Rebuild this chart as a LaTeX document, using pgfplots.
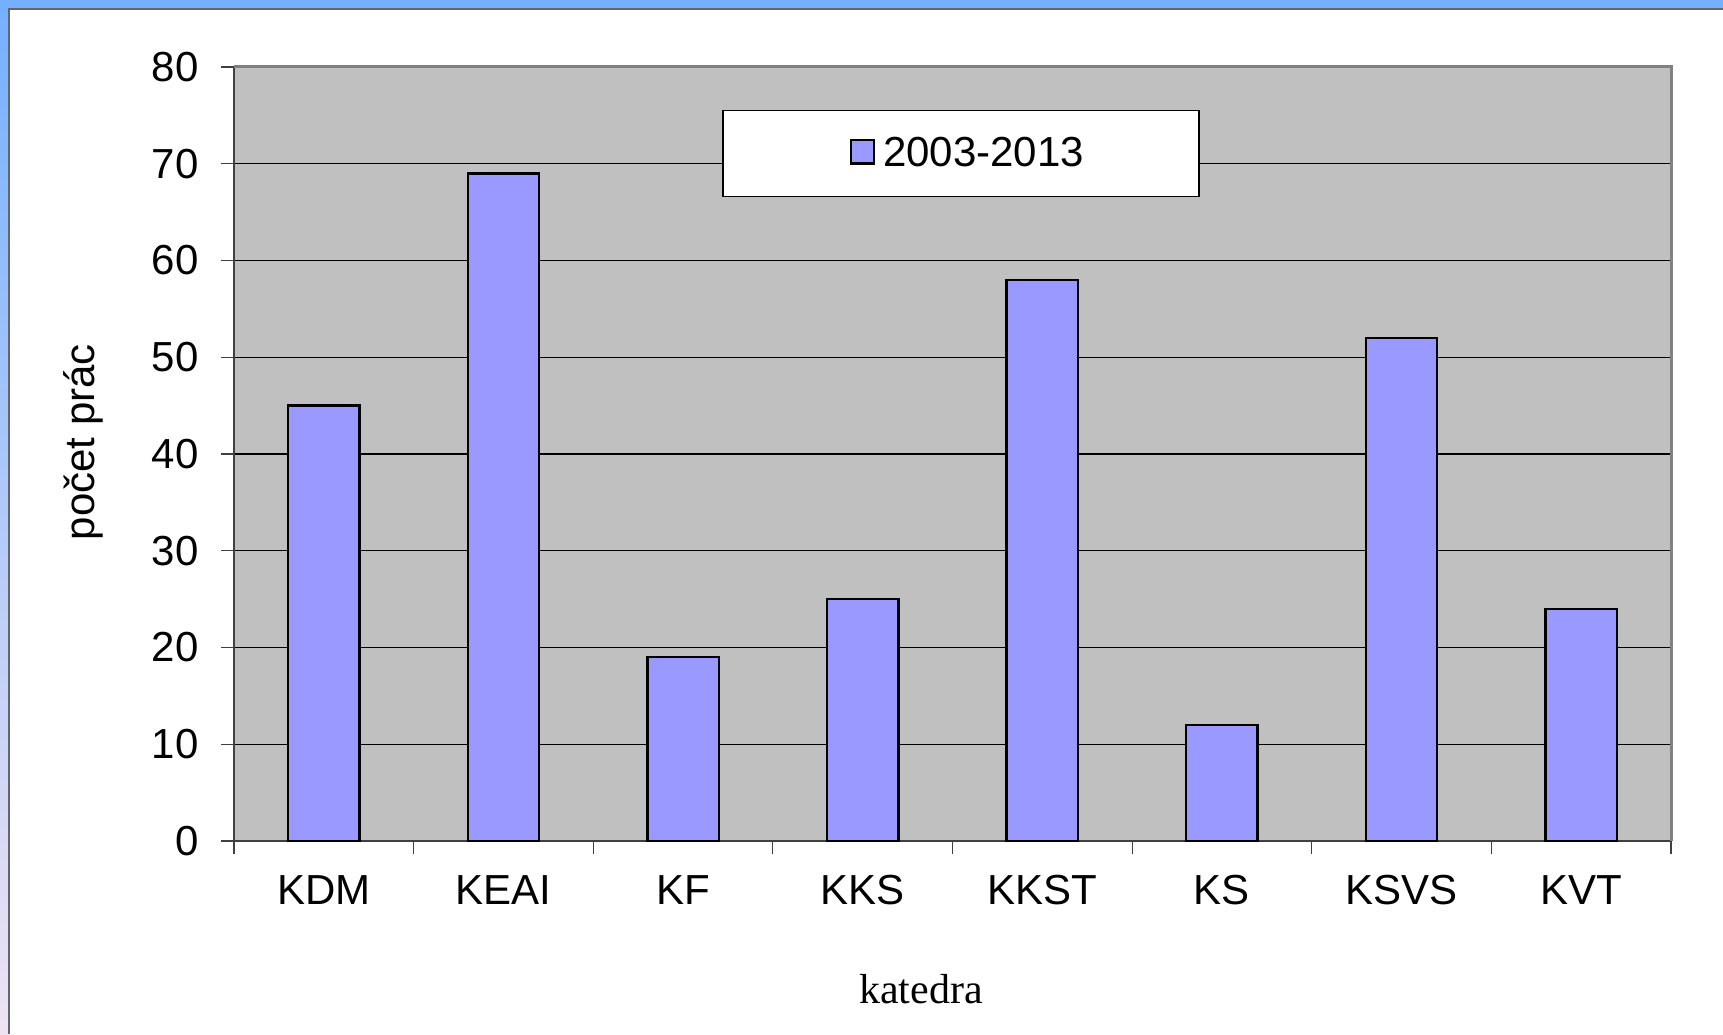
\documentclass[border=0pt]{standalone}
\usepackage{pgfplots}
\pgfplotsset{compat=1.18}
\usepackage{fontspec}
\setmainfont{Liberation Sans}
\newfontfamily\seriffont{Liberation Serif}
\definecolor{barblue}{HTML}{9999FF}
\definecolor{plotgray}{HTML}{C0C0C0}
\definecolor{framegray}{HTML}{808080}
\definecolor{topblue}{HTML}{74B0FF}
\definecolor{botpink}{HTML}{EFE3F3}
\begin{document}
\begin{tikzpicture}
\useasboundingbox (0pt,0pt) rectangle (861.5pt,517pt);
\fill[topblue] (0pt,512.5pt) rectangle (861.5pt,517pt);
\shade[top color=topblue, bottom color=botpink] (0pt,0pt) rectangle (4.5pt,517pt);
\fill[white] (4.5pt,0pt) rectangle (861.5pt,512.5pt);
\draw[color=black!60, line width=1pt] (4.5pt,0pt) -- (4.5pt,512.5pt) -- (861.5pt,512.5pt);
\begin{axis}[
  at={(117pt,96.5pt)}, anchor=south west,
  scale only axis, width=718.5pt, height=387pt,
  xmin=-0.5, xmax=7.5, ymin=0, ymax=80,
  axis background/.style={fill=plotgray},
  axis x line*=bottom, axis y line*=left,
  axis line style={draw=black!75, line width=0.8pt},
  ytick={0,10,...,80},
  ymajorgrids, major grid style={black, line width=0.6pt},
  xtick={0,...,7},
  xticklabels={KDM,KEAI,KF,KKS,KKST,KS,KSVS,KVT},
  minor xtick={-0.5,0.5,...,7.5},
  tick align=outside,
  major tick length=6.5pt, minor tick length=6.5pt,
  major x tick style={draw=none},
  minor x tick style={draw=black!75, line width=0.6pt},
  y tick style={draw=black!75, line width=0.6pt},
  /pgf/number format/assume math mode=true,
  tick label style={font=\fontsize{21}{25}\selectfont},
  yticklabel style={anchor=east, inner sep=0pt, xshift=-11pt},
  xticklabel style={anchor=north, inner sep=0pt, yshift=-10.5pt},
  ylabel={počet prác},
  ylabel style={font=\fontsize{21}{25}\selectfont, at={(axis description cs:-0.105,0.5155)}, anchor=center, rotate=0},
  xlabel={\seriffont katedra},
  xlabel style={font=\fontsize{21}{25}\selectfont, at={(axis description cs:0.478,-0.191)}, anchor=center},
  legend style={at={(axis description cs:0.3396,0.945)}, anchor=north west, draw=black, line width=0.8pt, fill=white,
    inner xsep=57.5pt, inner ysep=13.5pt, font=\fontsize{21}{25}\selectfont,
    nodes={inner sep=0pt}},
  after end axis/.code={\draw[framegray, line width=1.5pt] (rel axis cs:0,1) -- (rel axis cs:1,1) -- (rel axis cs:1,0);},
]
\addplot[ybar, bar width=35.7pt, fill=barblue, draw=black, line width=1.2pt,
  legend image code/.code={\path (-6pt,0pt);
    \draw[fill=barblue, draw=black, line width=1.2pt] (0pt,-4.9pt) rectangle (11.6pt,6.7pt);
    \path (15.5pt,0pt);}]
  coordinates {(0,45) (1,69) (2,19) (3,25) (4,58) (5,12) (6,52) (7,24)};
\addlegendentry{2003-2013}
\end{axis}
\end{tikzpicture}
\end{document}
